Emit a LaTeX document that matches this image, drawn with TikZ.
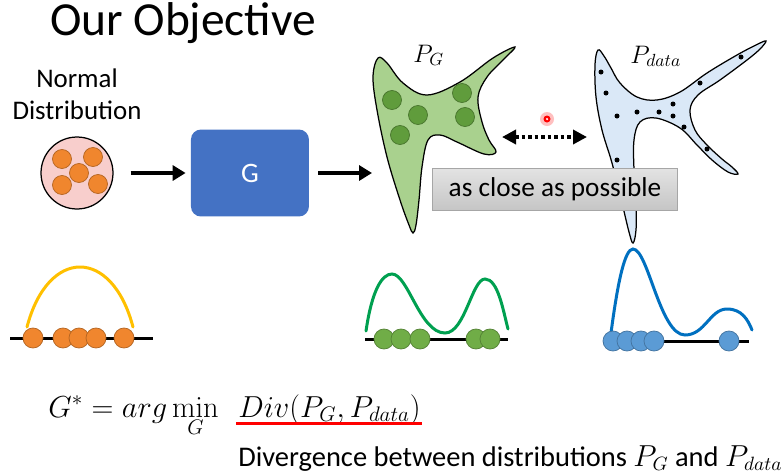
\documentclass[tikz,border=0pt]{standalone}
\usepackage[no-math]{fontspec}
\setmainfont{Carlito}
\usetikzlibrary{arrows.meta, positioning, shapes.geometric}

\definecolor{genblue}{RGB}{68,114,196}
\definecolor{pinkfill}{RGB}{248,206,204}
\definecolor{ballorange}{RGB}{240,134,46}
\definecolor{blobgreen}{RGB}{169,209,142}
\definecolor{ballgreen}{RGB}{96,156,60}
\definecolor{blobblue}{RGB}{218,232,247}
\definecolor{curveyellow}{RGB}{255,192,0}
\definecolor{curvegreen}{RGB}{0,160,80}
\definecolor{curveblue}{RGB}{0,112,192}
\definecolor{barblue}{RGB}{91,155,213}
\definecolor{bargreen}{RGB}{112,173,71}

\begin{document}
\begin{tikzpicture}[
    x=0.02cm, y=-0.02cm,
    box/.style={fill=genblue, rounded corners=0.2cm, minimum width=2.36cm, minimum height=1.74cm, text=white, font=\fontsize{16}{19}\selectfont},
    arrow/.style={-{Triangle[length=0.26cm, width=0.3cm]}, line width=0.08cm},
    dotarrow/.style={{Triangle[length=0.28cm, width=0.28cm]}-{Triangle[length=0.28cm, width=0.28cm]}, line width=0.08cm, dash pattern=on 0.07cm off 0.06cm},
    blob/.style={draw, line width=0.025cm},
    ball/.style={draw=#1!75!black, fill=#1, line width=0.015cm},
    bar/.style={line width=0.06cm},
    pdf/.style={line width=0.06cm, line cap=round},
    lbl/.style={inner sep=0pt}
]
    \useasboundingbox[fill=white] (0,0) rectangle (781,471);
    \clip (0,0) rectangle (781,471);

    % Title
    \node[lbl, anchor=base, font=\fontsize{27}{32}\selectfont] (title) at (183,35) {Our Objective};

    % Input distribution and generator
    \node[circle, draw, fill=pinkfill, line width=0.025cm, minimum size=1.44cm] (normal) at (77,173) {};
    \node[lbl, align=center, font=\fontsize{15.3}{18.5}\selectfont, above=0.32cm of normal] (normtxt) {Normal\\Distribution};
    \foreach \x/\y in {62/159, 93/157, 79/173, 62/185, 98/184}
        \fill[ball=ballorange] (\x,\y) circle (0.19cm);

    \node[box, right=1.54cm of normal] (gen) {G};
    \coordinate (pgin) at (372,173);

    \draw[arrow, shorten <=0.34cm, shorten >=0.1cm] (normal) -- (gen);
    \draw[arrow, shorten <=0.18cm] (gen) -- (pgin);

    % P_G
    \draw[blob, fill=blobgreen] plot[smooth cycle, tension=0.6] coordinates {
        (378,58) (387,63) (403,83) (427,95) (460,82) (493,58) (515,47) (503,60)
        (487,77) (478,97) (482,122) (489,140) (496,152) (484,154) (457,142)
        (440,135) (428,140) (422,167) (419,200) (416,225) (413,233) (409,225)
        (400,200) (387,157) (377,110) (373,77)};
    \foreach \x/\y in {392/100, 418/115, 462/93, 465/117, 400/135}
        \fill[ball=ballgreen] (\x,\y) circle (0.19cm);
    \node[lbl, anchor=base west, font=\fontsize{14.5}{17}\selectfont] (pglbl) at (413,62) {$P_G$};

    % P_data
    \draw[blob, fill=blobblue] plot[smooth cycle, tension=0.6] coordinates {
        (598,50) (604,56) (611,68) (620,83) (637,97) (657,100) (680,92) (707,73)
        (737,55) (757,44.5) (766,41) (760,49) (747,60) (720,80) (698,95) (690,110)
        (695,130) (707,145) (722,159) (732,167) (738,174) (728,172) (712,160)
        (697,145) (680,128) (656,118) (640,122) (634,140) (634,170) (636,205)
        (636,230) (633,243) (629,232) (622,203) (612,163) (602,130) (596,97) (595,65)};
    \foreach \x/\y in {601/72, 606/93, 617/116, 637/112, 659/112, 673/104, 673/116,
                       684/127, 700/83, 741/57, 707/149, 617/160}
        \fill (\x,\y) circle (0.05cm);
    \node[lbl, anchor=base west, font=\fontsize{14.5}{17}\selectfont] (pdlbl) at (630,63) {$P_{data}$};

    % as close as possible
    \coordinate (pgr) at (502,137);
    \coordinate (pdl) at (587,137);
    \draw[dotarrow] (pgr) -- (pdl);
    \fill[red!25] (547,119) circle (0.14cm);
    \fill[red] (547,119) circle (0.07cm);
    \fill[white] (547,119) circle (0.025cm);
    \node[draw=gray!70, top color=gray!22, bottom color=gray!45, minimum width=4.9cm, minimum height=0.84cm,
          font=\fontsize{15.5}{18}\selectfont] (close) at (555,189) {as close as possible};

    % Sample lines
    \coordinate (nl) at (10,338);
    \coordinate (nr) at (153,338);
    \draw[pdf, curveyellow] (27,327) .. controls (48,247) and (112,247) .. (133,327);
    \draw[bar] (nl) -- (nr);
    \foreach \x in {33, 63, 79, 96, 124}
        \fill[ball=ballorange] (\x,338) circle (0.2cm);

    \coordinate (gl) at (365,339);
    \coordinate (gr) at (508,339);
    \draw[pdf, curvegreen] (366,331) .. controls (372,290) and (382,274) .. (392,274)
        .. controls (408,274) and (420,333) .. (445,333)
        .. controls (465,333) and (472,279) .. (485,279)
        .. controls (498,279) and (503,310) .. (508,329);
    \draw[bar] (gl) -- (gr);
    \foreach \x in {384, 401, 420, 476, 490}
        \fill[ball=bargreen] (\x,339) circle (0.2cm);

    \coordinate (bl) at (603,341);
    \coordinate (br) at (749,341);
    \draw[pdf, curveblue] (611,333) .. controls (618,280) and (625,249) .. (633,249)
        .. controls (648,249) and (660,335) .. (685,335)
        .. controls (705,335) and (710,309) .. (727,309)
        .. controls (742,309) and (748,320) .. (752,330);
    \draw[bar] (bl) -- (br);
    \foreach \x in {613, 627, 641, 654, 729}
        \fill[ball=barblue] (\x,341) circle (0.2cm);

    % Objective
    \node[lbl, anchor=base west, font=\fontsize{16.5}{20}\selectfont] (obj) at (48,417) {$G^{*}=arg\min\limits_{G}$};
    \node[lbl, anchor=base west, font=\fontsize{16.5}{20}\selectfont] (divf) at (238,417) {$Div(P_G,P_{data})$};
    \draw[red, line width=0.06cm] ([shift={(-2,6)}]divf.base west) -- ([shift={(1,6)}]divf.base east);
    \node[lbl, anchor=base west, font=\fontsize{16.2}{19}\selectfont] (divtxt) at (238,466)
        {Divergence between distributions $P_G$ and $P_{data}$};
\end{tikzpicture}
\end{document}
